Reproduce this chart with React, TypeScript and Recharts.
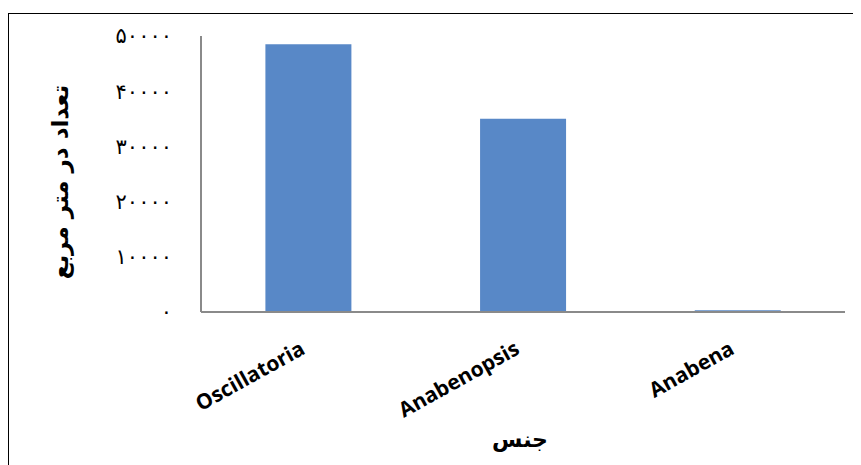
import { BarChart, Bar, XAxis, YAxis } from "recharts";

const genera = ["Oscillatoria", "Anabenopsis", "Anabena"];
const counts = [48500, 35000, 300];
const yTicks = [0, 10000, 20000, 30000, 40000, 50000];
const yTickLabels = ["۰", "۱۰۰۰۰", "۲۰۰۰۰", "۳۰۰۰۰", "۴۰۰۰۰", "۵۰۰۰۰"];
const yTitle = "تعداد در متر مربع";
const xTitle = "جنس";

const data = genera.map((genus, i) => ({ genus, count: counts[i] }));

const axisGrey = "#8a8a8a";

function YTitle({ viewBox }: any) {
  const cx = viewBox.x + 19;
  const cy = 168;
  return (
    <text
      x={cx}
      y={cy}
      transform={`rotate(-90 ${cx} ${cy})`}
      textAnchor="middle"
      dominantBaseline="central"
      fontFamily="DejaVu Sans"
      fontWeight="bold"
      fontSize={23}
      fill="#000"
    >
      {yTitle}
    </text>
  );
}

function XTitle({ viewBox }: any) {
  const cx = 511;
  const cy = viewBox.y + 127;
  return (
    <text
      x={cx}
      y={cy}
      textAnchor="middle"
      dominantBaseline="central"
      fontFamily="DejaVu Sans"
      fontWeight="bold"
      fontSize={22}
      fill="#000"
    >
      {xTitle}
    </text>
  );
}

function GenusTick({ x, y, payload }: any) {
  return (
    <text
      transform={`translate(${x - 2},${y + 41}) rotate(-29)`}
      textAnchor="end"
      fontFamily="Open Sans"
      fontWeight="bold"
      fontSize={21}
      fill="#000"
    >
      {payload.value}
    </text>
  );
}

export default function App() {
  return (
    <div
      style={{
        marginTop: 5,
        width: 852,
        height: 455,
        border: "1px solid #000",
        background: "#fff",
        overflow: "hidden",
      }}
    >
      <BarChart
        width={850}
        height={450}
        data={data}
        margin={{ top: 22, right: 14, left: 32, bottom: 0 }}
        barCategoryGap="30%"
      >
        <XAxis
          dataKey="genus"
          height={152}
          stroke={axisGrey}
          strokeWidth={2}
          tickLine={false}
          tickSize={0}
          tickMargin={0}
          interval={0}
          tick={<GenusTick />}
          label={{ content: <XTitle /> }}
        />
        <YAxis
          width={160}
          domain={[0, 50000]}
          ticks={yTicks}
          interval={0}
          stroke={axisGrey}
          strokeWidth={2}
          tickLine={false}
          tickSize={0}
          tickMargin={29}
          tickFormatter={(v: number) => yTickLabels[yTicks.indexOf(v)]}
          tick={{
            fill: "#000",
            fontFamily: "DejaVu Sans",
            fontSize: 21,
            letterSpacing: 3,
          }}
          label={{ content: <YTitle /> }}
        />
        <Bar dataKey="count" fill="#5888c7" isAnimationActive={false} />
      </BarChart>
    </div>
  );
}
